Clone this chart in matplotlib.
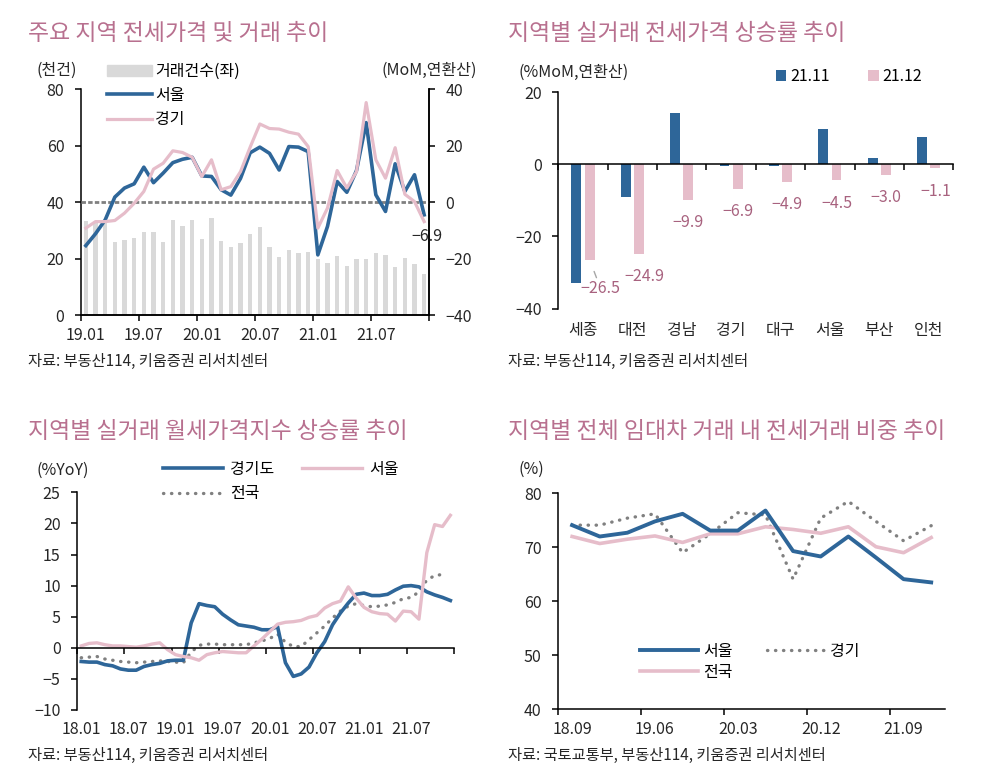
import numpy as np
import matplotlib
matplotlib.use("Agg")
import matplotlib.pyplot as plt
from matplotlib.lines import Line2D
from matplotlib.patches import Patch

plt.rcParams['font.family'] = ['Noto Sans CJK KR', 'DejaVu Sans']
plt.rcParams['axes.unicode_minus'] = True

# ---------- data ----------
# 1. 주요 지역 전세가격 및 거래 추이 (19.01 ~ 21.12, monthly)
p1_ticklabels = ['19.01', '19.07', '20.01', '20.07', '21.01', '21.07']
trade_cnt = [33.3, 33.0, 32.6, 26.0, 26.5, 27.2, 29.5, 29.5, 25.9, 33.7, 31.6, 33.7,
             26.8, 34.4, 26.4, 24.2, 25.5, 28.7, 31.2, 24.2, 20.6, 22.9, 21.9, 22.2,
             19.9, 18.4, 20.9, 17.5, 19.9, 19.9, 22.1, 21.3, 17.1, 20.2, 18.1, 14.4]
seoul_mom = [-15.4, -11.2, -6.3, 1.8, 5.0, 6.5, 12.4, 6.9, 10.3, 14.0, 15.2, 15.9,
             9.3, 9.1, 4.4, 2.5, 8.4, 17.5, 19.5, 17.3, 11.4, 19.7, 19.5, 17.9,
             -18.7, -8.6, 7.3, 3.5, 11.2, 28.2, 2.6, -3.3, 13.6, 3.8, 9.7, -4.5]
gyeonggi_mom = [-9.2, -6.9, -6.9, -6.5, -3.9, -0.4, 3.8, 11.7, 13.8, 18.2, 17.6, 15.9,
                9.1, 15.0, 4.4, 5.5, 10.8, 19.5, 27.7, 26.1, 25.9, 24.8, 24.1, 19.7,
                -9.2, -2.1, 11.2, 5.0, 10.8, 35.3, 15.0, 8.5, 19.3, 2.8, 0.2, -6.9]

# 2. 지역별 실거래 전세가격 상승률
regions = ['세종', '대전', '경남', '경기', '대구', '서울', '부산', '인천']
nov21 = [-32.8, -9.2, 14.3, -0.4, -0.6, 9.8, 1.8, 7.6]
dec21 = [-26.5, -24.9, -9.9, -6.9, -4.9, -4.5, -3.0, -1.1]

# 3. 지역별 실거래 월세가격지수 상승률 (18.01 ~ 21.12, monthly)
p3_ticklabels = ['18.01', '18.07', '19.01', '19.07', '20.01', '20.07', '21.01', '21.07']
gyeonggido_yoy = [-2.2, -2.3, -2.3, -2.7, -2.9, -3.4, -3.6, -3.6, -3.0, -2.7, -2.5, -2.1,
                  -2.0, -2.0, 4.0, 7.1, 6.8, 6.6, 5.4, 4.5, 3.7, 3.5, 3.3, 2.9,
                  2.9, 3.4, -2.4, -4.6, -4.2, -3.1, -0.8, 1.0, 3.7, 5.6, 7.2, 8.6,
                  8.8, 8.4, 8.4, 8.6, 9.3, 9.9, 10.0, 9.8, 9.0, 8.5, 8.1, 7.6]
seoul_yoy = [0.3, 0.7, 0.8, 0.5, 0.3, 0.3, 0.2, 0.1, 0.3, 0.6, 0.8, -0.3,
             -1.1, -1.4, -1.6, -2.0, -1.1, -0.8, -0.6, -0.7, -0.8, -0.8, 0.3, 1.4,
             2.6, 3.8, 4.1, 4.2, 4.4, 4.9, 5.2, 6.4, 7.1, 7.5, 9.8, 8.0,
             6.5, 5.8, 5.5, 5.4, 4.3, 5.9, 5.8, 4.6, 15.3, 19.8, 19.5, 21.3]
national_yoy = [-1.6, -1.5, -1.4, -1.8, -2.0, -2.2, -2.3, -2.4, -2.3, -2.2, -2.1, -2.2,
                -2.3, -2.4, -0.7, 0.4, 0.6, 0.6, 0.5, 0.5, 0.5, 0.5, 0.8, 1.1,
                1.5, 2.2, 0.9, 0.2, 0.2, 1.3, 2.4, 3.5, 4.8, 5.9, 6.7, 7.1,
                6.8, 6.6, 6.7, 6.9, 7.3, 7.9, 8.1, 9.0, 10.9, 11.6, 11.8]

# 4. 지역별 전체 임대차 거래 내 전세거래 비중 (18.09 ~ 21.12, quarterly)
p4_ticklabels = ['18.09', '19.06', '20.03', '20.12', '21.09']
seoul_share = [74.1, 72.0, 72.7, 74.8, 76.2, 73.1, 73.1, 76.8, 69.3, 68.3, 72.0, 68.1, 64.1, 63.5]
gyeonggi_share = [74.1, 74.1, 75.4, 76.2, 69.0, 72.5, 76.4, 76.0, 64.1, 75.4, 78.5, 74.8, 71.2, 74.0]
national_share = [72.0, 70.7, 71.5, 72.1, 70.9, 72.5, 72.5, 73.8, 73.3, 72.6, 73.8, 70.1, 69.0, 71.8]

# ---------- style ----------
BLUE = '#2e6699'
PINK = '#e6bdca'
BAR_GRAY = '#d9d9d9'
DOT = '#808080'
TITLE_C = '#b8708f'
LABEL_C = '#a8627f'
TXT = '#262626'
FS = 11.5
DOTTED = (0, (0.1, 2.3))

W, H = 1005, 781
fig = plt.figure(figsize=(W / 100, H / 100), dpi=100)


def box(l, t, r, b):
    return [l / W, 1 - b / H, (r - l) / W, (b - t) / H]


def ftext(x, y, s, **kw):
    kw.setdefault('fontsize', FS)
    kw.setdefault('color', TXT)
    fig.text(x / W, 1 - y / H, s, va='center', ha=kw.pop('ha', 'left'), **kw)


def style(ax):
    for s in ax.spines.values():
        s.set_linewidth(1.1)
        s.set_color('black')
    ax.spines['top'].set_visible(False)
    ax.tick_params(axis='both', which='major', direction='out', length=4,
                   width=1.1, labelsize=FS, labelcolor=TXT)
    ax.tick_params(axis='y', pad=8)


def bottom_labels(ax, pos, labels, off=20):
    for p, s in zip(pos, labels):
        ax.annotate(s, xy=(p, 0), xycoords=('data', 'axes fraction'),
                    xytext=(0, -off * 0.72), textcoords='offset points',
                    ha='center', va='center', fontsize=FS, color=TXT)


def fig_legend(ax, handles, labels, left, top, **kw):
    ax.legend(handles, labels, loc='upper left',
              bbox_to_anchor=(left / W, 1 - top / H), bbox_transform=fig.transFigure,
              frameon=False, borderpad=0, borderaxespad=0, fontsize=FS, **kw)


# ---------- 1. 주요 지역 전세가격 및 거래 추이 ----------
ax1 = fig.add_axes(box(81, 89.3, 429, 315))
style(ax1)
x1 = np.arange(len(trade_cnt))
ax1.bar(x1, trade_cnt, width=0.42, color=BAR_GRAY)
ax1.set_ylim(0, 80)
ax1.set_yticks([0, 20, 40, 60, 80])
ax1.set_xlim(-0.5, len(trade_cnt) - 0.5)
ax1.set_xticks(np.arange(-0.5, len(trade_cnt), 6))
ax1.set_xticklabels([])
bottom_labels(ax1, np.arange(0, len(trade_cnt), 6), p1_ticklabels)

ax1r = ax1.twinx()
style(ax1r)
ax1r.spines['left'].set_visible(False)
ax1r.set_ylim(-40, 40)
ax1r.set_yticks([-40, -20, 0, 20, 40])
ax1r.axhline(0, color=DOT, lw=2.0, ls=(0, (1.6, 0.8)))
ax1r.plot(x1, seoul_mom, color=BLUE, lw=2.6)
ax1r.plot(x1, gyeonggi_mom, color=PINK, lw=2.3)
ax1r.annotate(f'{gyeonggi_mom[-1]:.1f}'.replace('-', '\u2212'), xy=(x1[-1], gyeonggi_mom[-1]),
              xytext=(2, -11), textcoords='offset points', ha='center', va='center',
              fontsize=FS, color=TXT)
fig_legend(ax1r,
           [Patch(color=BAR_GRAY), Line2D([], [], color=BLUE, lw=2.6),
            Line2D([], [], color=PINK, lw=2.3)],
           ['거래건수(좌)', '서울', '경기'], 107, 63,
           handlelength=2.8, handleheight=0.75, handletextpad=0.2, labelspacing=0.45)
ftext(36, 70, '(천건)')
ftext(477, 70, '(MoM,연환산)', ha='right')
ftext(28, 33, '주요 지역 전세가격 및 거래 추이', fontsize=16.5, color=TITLE_C)
ftext(28, 361, '자료: 부동산114, 키움증권 리서치센터', fontsize=11)

# ---------- 2. 지역별 실거래 전세가격 상승률 추이 ----------
ax2 = fig.add_axes(box(558.3, 92, 953.3, 308.5))
style(ax2)
ax2.spines['right'].set_visible(False)
ax2.spines['bottom'].set_position(('data', 0))
x2 = np.arange(len(regions))
ax2.bar(x2 - 0.135, nov21, width=0.2, color=BLUE, label='21.11')
ax2.bar(x2 + 0.135, dec21, width=0.2, color=PINK, label='21.12')
ax2.set_xlim(-0.5, len(regions) - 0.5)
ax2.set_ylim(-40, 20)
ax2.set_yticks([-40, -20, 0, 20])
ax2.set_xticks(np.arange(-0.5, len(regions), 1))
ax2.set_xticklabels([])
bottom_labels(ax2, x2, regions, off=21.5)
for i, v in enumerate(dec21):
    s = f'{v:.1f}'.replace('-', '\u2212')
    if i == 0:
        ax2.annotate(s, xy=(x2[i] + 0.135, v), xytext=(8, -21), textcoords='offset points',
                     ha='center', va='center', fontsize=FS, color=LABEL_C,
                     arrowprops=dict(arrowstyle='-', color='#a6a6a6', lw=1,
                                     shrinkA=0, shrinkB=9))
    elif i == 1:
        ax2.annotate(s, xy=(x2[i] + 0.135, v), xytext=(4, -16.5), textcoords='offset points',
                     ha='center', va='center', fontsize=FS, color=LABEL_C)
    else:
        ax2.annotate(s, xy=(x2[i] + 0.135, v), xytext=(0, -16.5), textcoords='offset points',
                     ha='center', va='center', fontsize=FS, color=LABEL_C)
fig_legend(ax2, *ax2.get_legend_handles_labels(), 776, 68, ncol=2,
           handlelength=0.65, handleheight=0.65, handletextpad=0.25, columnspacing=2.4)
ftext(518, 72.5, '(%MoM,연환산)')
ftext(508, 33, '지역별 실거래 전세가격 상승률 추이', fontsize=16.5, color=TITLE_C)
ftext(508, 361, '자료: 부동산114, 키움증권 리서치센터', fontsize=11)

# ---------- 3. 지역별 실거래 월세가격지수 상승률 추이 ----------
ax3 = fig.add_axes(box(77.3, 492.3, 454.3, 710))
style(ax3)
ax3.spines['right'].set_visible(False)
ax3.spines['bottom'].set_position(('data', 0))
x3 = np.arange(len(seoul_yoy))
l_nat, = ax3.plot(np.arange(len(national_yoy)), national_yoy, color=DOT, lw=2.4,
                  ls=DOTTED, dash_capstyle='round')
l_gg, = ax3.plot(x3, gyeonggido_yoy, color=BLUE, lw=2.6)
l_se, = ax3.plot(x3, seoul_yoy, color=PINK, lw=2.4)
ax3.set_xlim(-0.5, len(seoul_yoy) - 0.5)
ax3.set_ylim(-10, 25)
ax3.set_yticks(np.arange(-10, 26, 5))
ax3.set_xticks(np.arange(-0.5, len(seoul_yoy), 6))
ax3.set_xticklabels([])
bottom_labels(ax3, np.arange(0, len(seoul_yoy), 6), p3_ticklabels)
fig_legend(ax3, [l_gg, l_nat, l_se], ['경기도', '전국', '서울'], 163, 461, ncol=2,
           handlelength=3.75, handletextpad=0.45, columnspacing=1.75, labelspacing=0.45)
ftext(36, 470, '(%YoY)')
ftext(28, 432, '지역별 실거래 월세가격지수 상승률 추이', fontsize=16.5, color=TITLE_C)
ftext(28, 755, '자료: 부동산114, 키움증권 리서치센터', fontsize=11)

# ---------- 4. 지역별 전체 임대차 거래 내 전세거래 비중 추이 ----------
ax4 = fig.add_axes(box(558.3, 493.3, 945, 709.3))
style(ax4)
ax4.spines['right'].set_visible(False)
x4 = np.arange(len(seoul_share))
l4_gg, = ax4.plot(x4, gyeonggi_share, color=DOT, lw=2.4, ls=DOTTED, dash_capstyle='round')
l4_na, = ax4.plot(x4, national_share, color=PINK, lw=2.6)
l4_se, = ax4.plot(x4, seoul_share, color=BLUE, lw=2.8)
ax4.set_xlim(-0.5, len(seoul_share) - 0.5)
ax4.set_ylim(40, 80)
ax4.set_yticks(np.arange(40, 81, 10))
ax4.set_xticks(np.arange(-0.5, len(seoul_share), 3))
ax4.set_xticklabels([])
bottom_labels(ax4, np.arange(0, len(seoul_share), 3), p4_ticklabels)
fig_legend(ax4, [l4_se, l4_na, l4_gg], ['서울', '전국', '경기'], 640, 643, ncol=2,
           handlelength=3.6, handletextpad=0.375, columnspacing=2.1, labelspacing=0.25)
ftext(518, 469, '(%)')
ftext(508, 432, '지역별 전체 임대차 거래 내 전세거래 비중 추이', fontsize=16.5, color=TITLE_C)
ftext(508, 755, '자료: 국토교통부, 부동산114, 키움증권 리서치센터', fontsize=11)

fig.savefig('out.png', dpi=100)
